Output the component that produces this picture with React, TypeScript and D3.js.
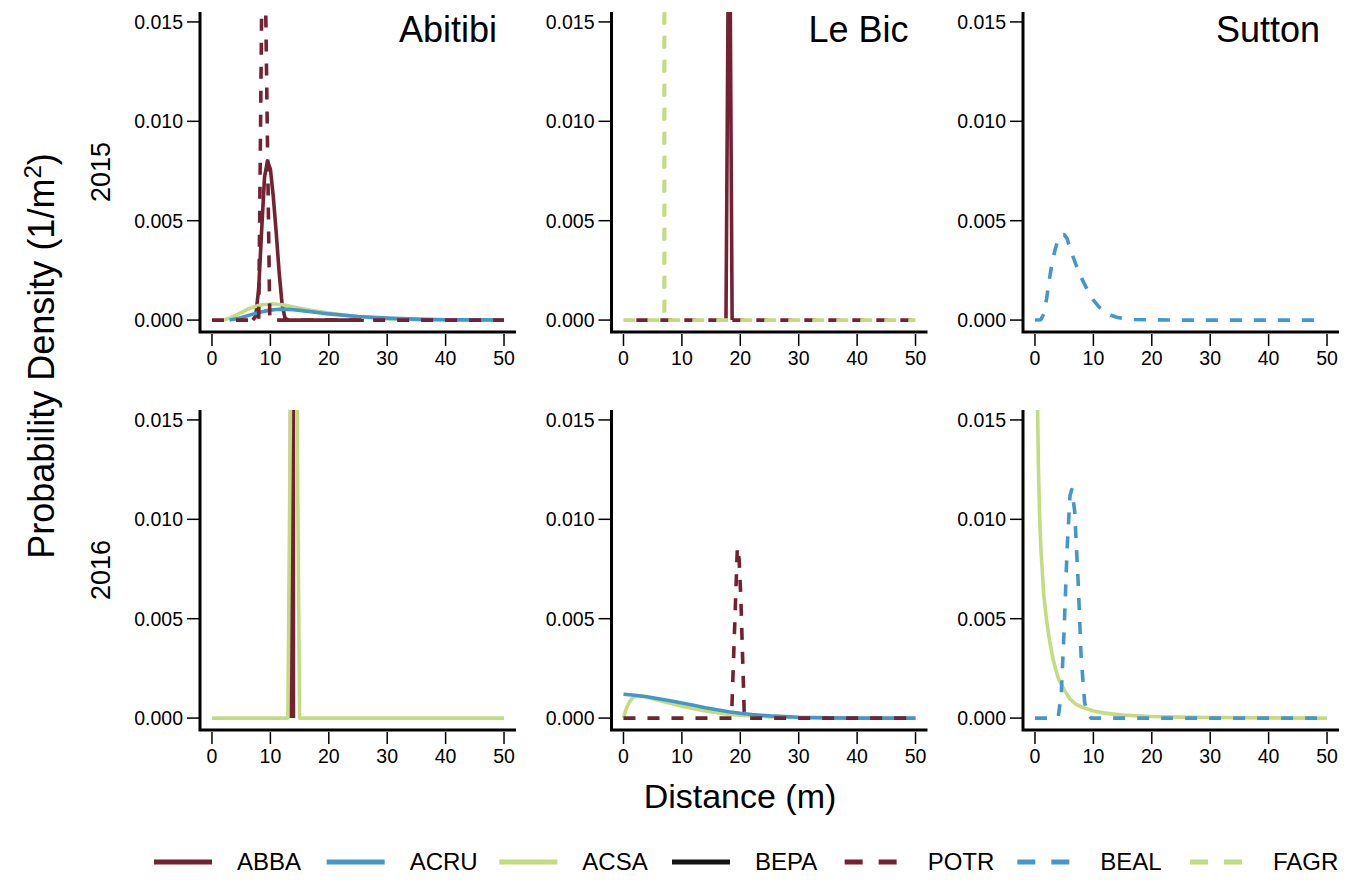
import React from 'react';
import * as d3 from 'd3';

const sites = ['Abitibi', 'Le Bic', 'Sutton'];
const years = ['2015', '2016'];
const species = ['ABBA', 'ACRU', 'ACSA', 'BEPA', 'POTR', 'BEAL', 'FAGR'];
const xTicks = [0, 10, 20, 30, 40, 50];
const yTicks = [0, 0.005, 0.01, 0.015];
const yTickLabels = ['0.000', '0.005', '0.010', '0.015'];

// Abitibi 2015
const abi15ABBA = [[7, 0], [7.5, 0.0002], [8, 0.0016], [8.5, 0.0045], [9, 0.0072], [9.5, 0.008], [10, 0.0076], [10.5, 0.0062], [11, 0.0044], [11.5, 0.0024], [12, 0.0008], [12.5, 0.0001], [13, 0], [26, 0]];
const abi15ACRU = [[3, 0], [4, 0.00005], [5, 0.00012], [6, 0.00021], [7, 0.0003], [8, 0.00038], [9, 0.00045], [10, 0.0005], [11, 0.00053], [12, 0.00055], [13, 0.00054], [14, 0.00052], [15, 0.00049], [17, 0.00042], [20, 0.00031], [25, 0.00018], [30, 0.0001], [35, 0.00005], [40, 0.00002], [45, 0.00001], [50, 0]];
const abi15ACSA = [[2, 0], [3, 0.0001], [4, 0.00022], [5, 0.00038], [6, 0.00053], [7, 0.00065], [8, 0.00073], [9, 0.00078], [10, 0.0008], [11, 0.0008], [12, 0.00077], [13, 0.00072], [14, 0.00066], [15, 0.0006], [17, 0.00049], [20, 0.00035], [25, 0.00017], [30, 0.00006], [35, 0.00002], [40, 0.00001], [50, 0]];
const abi15POTR = [[0, 0], [8, 0], [8.8, 0.0246], [9.9, 0], [50, 0]];

// Le Bic 2015
const bic15ABBA = [[17.55, 0], [18.1, 0.025], [18.6, 0]];
const bic15POTR = [[2.2, 0], [50, 0]];
const bic15FAGR = [[0, 0], [6.95, 0], [7, 0.5], [7.05, 0], [50, 0]];

// Sutton 2015
const sut15BEAL = [[0, 0], [1, 0.00002], [1.5, 0.0003], [2, 0.0011], [2.5, 0.0021], [3, 0.003], [3.5, 0.0036], [4, 0.0041], [4.5, 0.0043], [5, 0.0043], [5.5, 0.0041], [6, 0.0036], [7, 0.0028], [8, 0.0021], [9, 0.0015], [10, 0.001], [11, 0.00065], [12, 0.0004], [13, 0.00024], [14, 0.00014], [15, 0.00008], [17, 0.00003], [20, 0.00001], [25, 0], [49, 0]];

// Abitibi 2016
const abi16ABBA = [[13.45, 0], [13.7, 0.3], [13.95, 0]];
const abi16ACSA = [[0, 0], [13, 0], [14, 0.036], [15, 0], [50, 0]];

// Le Bic 2016
const bic16ACRU = [[0, 0.0012], [2, 0.00115], [4, 0.00107], [6, 0.00097], [8, 0.00087], [10, 0.00076], [12, 0.00064], [14, 0.00052], [16, 0.00042], [18, 0.00032], [20, 0.00024], [22, 0.00018], [25, 0.00011], [30, 0.00004], [35, 0.00001], [40, 0], [50, 0]];
const bic16ACSA = [[0, 0], [0.5, 0.0005], [1, 0.0008], [1.5, 0.001], [2, 0.0011], [3, 0.00112], [4, 0.00105], [6, 0.0009], [8, 0.00074], [10, 0.0006], [12, 0.00047], [14, 0.00036], [16, 0.00027], [18, 0.0002], [20, 0.00015], [25, 0.00006], [30, 0.00002], [35, 0], [50, 0]];
const bic16POTR = [[0, 0], [18.5, 0], [19.5, 0.0086], [19.8, 0.008], [20.1, 0.006], [20.7, 0], [50, 0]];

// Sutton 2016
const sut16ACSA = [[0.4, 0.0165], [0.6, 0.0125], [0.8, 0.0101], [1, 0.0086], [1.5, 0.0062], [2, 0.0049], [2.5, 0.0039], [3, 0.0031], [3.5, 0.0025], [4, 0.002], [5, 0.00142], [6, 0.00095], [7, 0.0007], [8, 0.00055], [10, 0.00036], [12, 0.00025], [15, 0.00015], [20, 0.00008], [25, 0.00005], [30, 0.00003], [40, 0.00001], [50, 0]];
const sut16BEAL = [[0, 0], [3.5, 0], [4, 0.0001], [4.5, 0.0012], [5, 0.0045], [5.5, 0.0085], [6, 0.0112], [6.3, 0.0115], [6.8, 0.0104], [7.4, 0.0068], [7.9, 0.0031], [8.5, 0.0008], [9, 0.0002], [9.6, 0], [50, 0]];

const panels = [
    { site: 0, year: 0, curves: { ABBA: abi15ABBA, ACRU: abi15ACRU, ACSA: abi15ACSA, POTR: abi15POTR } },
    { site: 1, year: 0, curves: { ABBA: bic15ABBA, POTR: bic15POTR, FAGR: bic15FAGR } },
    { site: 2, year: 0, curves: { BEAL: sut15BEAL } },
    { site: 0, year: 1, curves: { ABBA: abi16ABBA, ACSA: abi16ACSA } },
    { site: 1, year: 1, curves: { ACRU: bic16ACRU, ACSA: bic16ACSA, POTR: bic16POTR } },
    { site: 2, year: 1, curves: { ACSA: sut16ACSA, BEAL: sut16BEAL } }
];

const colors = {
    ABBA: '#722233', ACRU: '#4596c9', ACSA: '#c3dc80', BEPA: '#151515',
    POTR: '#722233', BEAL: '#4596c9', FAGR: '#c3dc80'
};
const dashed = ['POTR', 'BEAL', 'FAGR'];
const drawOrder = ['ABBA', 'ACSA', 'ACRU', 'BEPA', 'POTR', 'BEAL', 'FAGR'];

const font = '"Liberation Sans", Arial, Helvetica, sans-serif';
const boxW = 316;
const boxH = 320;
const colLeft = [200, 611.5, 1023];
const rowTop = [12, 410];

const Panel = ({ p, idx }) => {
    const left = colLeft[p.site];
    const top = rowTop[p.year];
    const x = d3.scaleLinear().domain([-2.05, 52.05]).range([left, left + boxW]);
    const y = d3.scaleLinear().domain([-0.0006, 0.0155]).range([top + boxH, top]);
    const line = d3.line().x(d => x(d[0])).y(d => y(d[1]));
    const bottom = top + boxH;
    return (
        <g>
            <clipPath id={'clip' + idx}>
                <rect x={left} y={top} width={boxW} height={boxH} />
            </clipPath>
            <g clipPath={'url(#clip' + idx + ')'}>
                {drawOrder.filter(s => p.curves[s]).map(s => (
                    <path key={s} d={line(p.curves[s])} fill="none" stroke={colors[s]}
                        strokeWidth={3.6} strokeLinejoin="round"
                        strokeDasharray={dashed.includes(s) ? '12 12' : null} />
                ))}
            </g>
            <path d={`M${left},${top}V${bottom}H${left + boxW}`} fill="none" stroke="#000" strokeWidth={3} />
            {yTicks.map((t, i) => (
                <g key={t}>
                    <line x1={left - 13} x2={left} y1={y(t)} y2={y(t)} stroke="#000" strokeWidth={1.5} />
                    <text x={left - 17} y={y(t)} dy="0.36em" textAnchor="end" fontSize={19.5} fontFamily={font}>{yTickLabels[i]}</text>
                </g>
            ))}
            {xTicks.map(t => (
                <g key={t}>
                    <line x1={x(t)} x2={x(t)} y1={bottom + 2} y2={bottom + 14} stroke="#000" strokeWidth={1.5} />
                    <text x={x(t)} y={bottom + 33} textAnchor="middle" fontSize={19.5} fontFamily={font}>{t}</text>
                </g>
            ))}
            {p.year === 0 && (
                <text x={left + boxW - 19} y={top + 30} textAnchor="end" fontSize={36} fontFamily={font}>{sites[p.site]}</text>
            )}
        </g>
    );
};

export default function App() {
    const legendX = d3.scaleLinear().domain([0, species.length - 1]).range([154, 1190]);
    return (
        <svg width={1353} height={880} style={{ position: 'absolute', left: 0, top: 0, background: '#fff' }}>
            <rect width={1353} height={880} fill="#fff" />
            {panels.map((p, i) => <Panel key={i} p={p} idx={i} />)}
            {years.map((yr, i) => (
                <text key={yr} transform={`translate(110,${rowTop[i] + 160}) rotate(-90)`} textAnchor="middle"
                    fontSize={27} fontFamily={font}>{yr}</text>
            ))}
            <text transform="translate(54,356) rotate(-90)" textAnchor="middle" fontSize={36} fontFamily={font}>
                Probability Density (1/m<tspan dy="-13" fontSize={24}>2</tspan><tspan dy="13">)</tspan>
            </text>
            <text x={740} y={808} textAnchor="middle" fontSize={34} fontFamily={font}>Distance (m)</text>
            {species.map((s, i) => {
                const lx = legendX(i);
                return (
                    <g key={s}>
                        <line x1={lx} x2={lx + 58} y1={862} y2={862} stroke={colors[s]} strokeWidth={5}
                            strokeDasharray={dashed.includes(s) ? '18 16' : null} />
                        <text x={lx + 83} y={870} fontSize={24} fontFamily={font}>{s}</text>
                    </g>
                );
            })}
        </svg>
    );
}
